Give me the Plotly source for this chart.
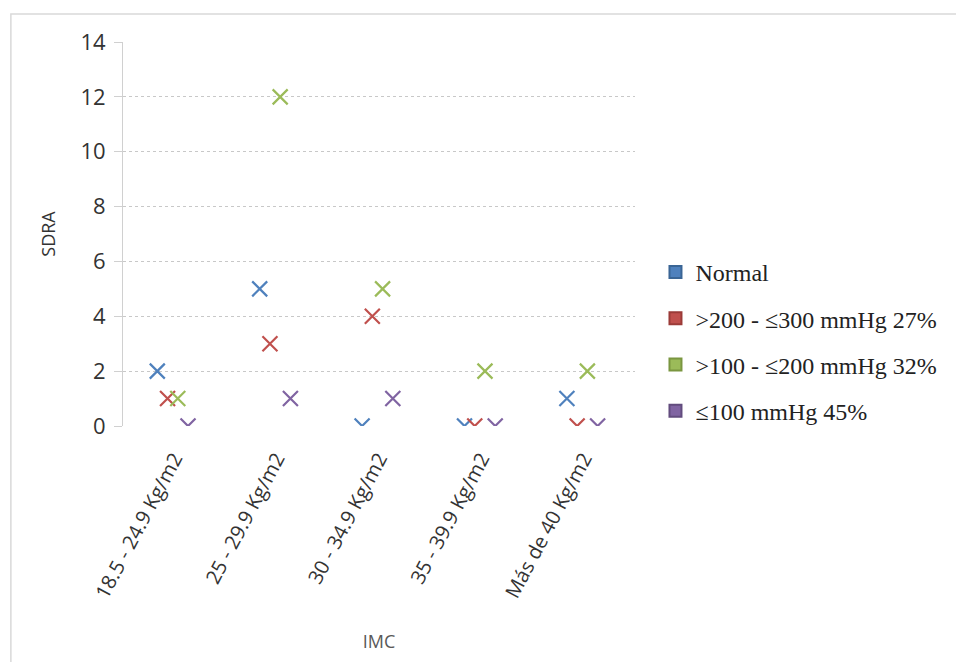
import plotly.graph_objects as go

# IMC categories and SDRA counts per oxygenation group
categories = ["18.5 - 24.9 Kg/m2", "25 - 29.9 Kg/m2", "30 - 34.9 Kg/m2",
              "35 - 39.9 Kg/m2", "Más de 40 Kg/m2"]
series_names = ["Normal", ">200 - ≤300 mmHg 27%", ">100 - ≤200 mmHg 32%", "≤100 mmHg 45%"]
normal = [2, 5, 0, 0, 1]
grp_200_300 = [1, 3, 4, 0, 0]
grp_100_200 = [1, 12, 5, 2, 2]
grp_le_100 = [0, 1, 1, 0, 0]
y_ticks = [0, 2, 4, 6, 8, 10, 12, 14]

series_values = [normal, grp_200_300, grp_100_200, grp_le_100]
colors = ["#4F81BD", "#C0504D", "#9BBB59", "#8064A2"]
edges = ["#3A6595", "#9B3B38", "#7A9640", "#624C7E"]
offsets = [-0.165, -0.065, 0.035, 0.135]

fig = go.Figure()
cat_idx = list(range(len(categories)))

for name, vals, col, off in zip(series_names, series_values, colors, offsets):
    fig.add_trace(go.Scatter(
        x=[i + off for i in cat_idx], y=vals, mode="markers", name=name,
        showlegend=False, cliponaxis=True,
        marker=dict(symbol="x-thin-open", size=15, color=col,
                    line=dict(color=col, width=2.2)),
    ))

# square legend keys
for k, (name, col, edge) in enumerate(zip(series_names, colors, edges)):
    fig.add_trace(go.Scatter(
        x=[None], y=[None], mode="markers", name=name, legendgroup=f"g{k}",
        marker=dict(symbol="square", size=15, color=col, line=dict(color=edge, width=1)),
    ))

fig.update_layout(
    width=956, height=662,
    margin=dict(l=123, r=321, t=42, b=236),
    paper_bgcolor="white", plot_bgcolor="white",
    font=dict(family="Open Sans", color="#333333"),
    showlegend=True,
    legend=dict(x=1.04, xanchor="left", y=0.22, yanchor="middle",
                font=dict(family="Liberation Serif", size=24, color="#222222"),
                tracegroupgap=12, itemsizing="constant", bgcolor="rgba(0,0,0,0)"),
    xaxis=dict(
        range=[-0.5, 4.5], tickmode="array", tickvals=cat_idx, ticktext=categories,
        tickangle=-62, tickfont=dict(size=20, color="#333333"), ticklabelstandoff=16,
        showgrid=False, zeroline=False, showline=False, ticks="",
        title=dict(text="IMC", font=dict(size=18, color="#595959"), standoff=33),
    ),
    yaxis=dict(
        range=[0, 14], tickmode="array", tickvals=y_ticks,
        tickfont=dict(size=22, color="#333333"), ticklabelstandoff=4,
        showgrid=True, gridcolor="#C8C8C8", griddash="dot", gridwidth=1,
        zeroline=False, showline=True, linecolor="#D0D0D0", linewidth=1,
        ticks="outside", ticklen=8, tickcolor="#D0D0D0",
        title=dict(text="SDRA", font=dict(size=18, color="#333333"), standoff=20),
    ),
)

# outer chart frame
fig.add_shape(type="rect", xref="paper", yref="paper",
              x0=-0.219, y0=-0.64, x1=1.637, y1=1.073,
              line=dict(color="#D9D9D9", width=1.5), layer="below")

fig.write_html("out.html")
